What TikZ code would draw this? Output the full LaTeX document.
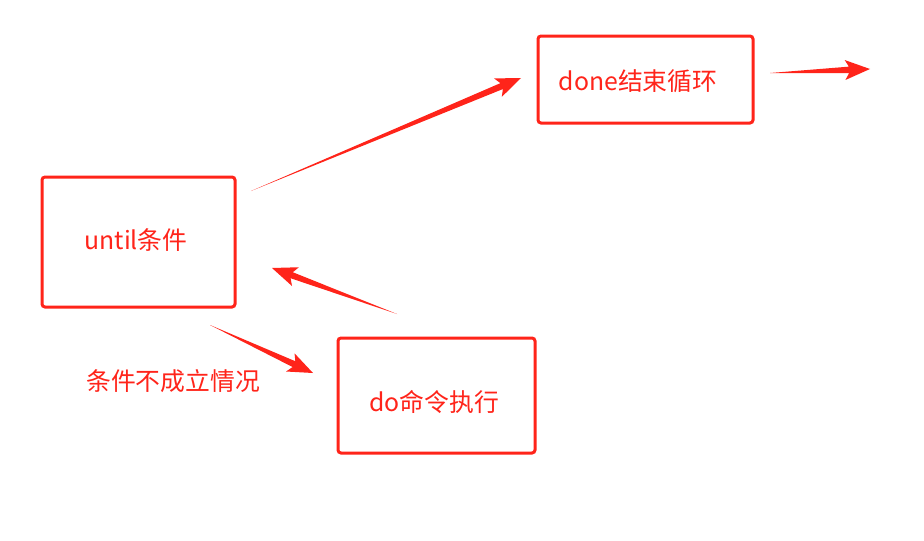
\documentclass[tikz,border=0pt]{standalone}
\usepackage{fontspec}
\setmainfont{Noto Sans CJK SC}
\usetikzlibrary{calc}
\definecolor{myred}{RGB}{255,36,26}
\tikzset{
  boxst/.style={draw=myred, line width=3pt, rounded corners=3pt},
  txtst/.style={text=myred, font=\fontsize{24.8}{28}\selectfont, inner sep=0pt}
}
\newcommand{\tparrow}[2]{%
  \fill[myred] (#1)
    -- ($(#2)!21pt!(#1)!3.2pt!90:(#2)$)
    -- ($(#2)!25pt!(#1)!10pt!90:(#2)$)
    -- (#2)
    -- ($(#2)!25pt!(#1)!10pt!-90:(#2)$)
    -- ($(#2)!21pt!(#1)!3.2pt!-90:(#2)$)
    -- cycle;}
\begin{document}
\begin{tikzpicture}[x=1pt,y=-1pt]
\useasboundingbox[fill=white] (0,0) rectangle (924,541);
% boxes
\draw[boxst] (42,177) rectangle (235,307);
\draw[boxst] (538,36) rectangle (753,123);
\draw[boxst] (338,338) rectangle (535,453);
% texts
\node[txtst] (until) at (136,240) {until条件};
\node[txtst] (done) at (638,81) {done结束循环};
\node[txtst] (do) at (434,402) {do命令执行};
\node[txtst] (lbl) at (173,381) {条件不成立情况};
% arrow coordinates
\coordinate (a1t) at (251,191); \coordinate (a1h) at (521,78);
\coordinate (a2t) at (397,314); \coordinate (a2h) at (272,268);
\coordinate (a3t) at (210,325); \coordinate (a3h) at (313,373);
\coordinate (a4t) at (770,73);  \coordinate (a4h) at (870,69);
\tparrow{a1t}{a1h}
\tparrow{a2t}{a2h}
\tparrow{a3t}{a3h}
\tparrow{a4t}{a4h}
\end{tikzpicture}
\end{document}
